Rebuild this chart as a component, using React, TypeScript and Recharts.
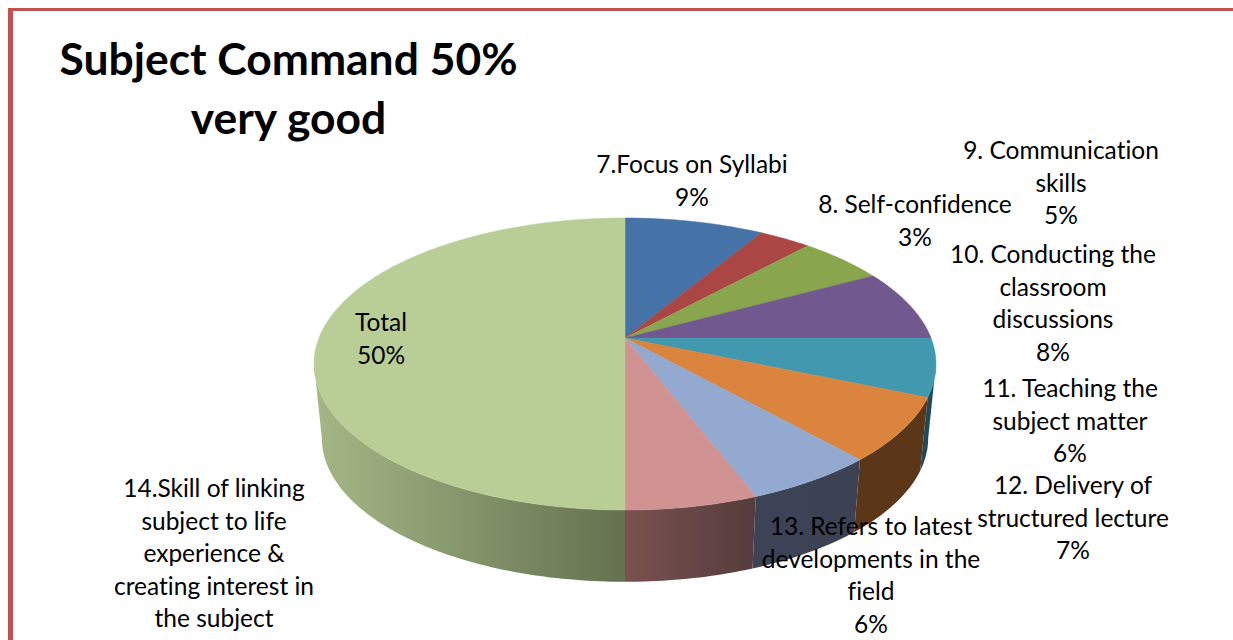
// @ts-nocheck
import { PieChart, Pie } from 'recharts'

const values = [8.6, 3.2, 5.3, 7.9, 6.4, 7.0, 5.8, 5.8, 50]
const labelLines = [
  ['7.Focus on Syllabi'],
  ['8. Self-confidence'],
  ['9. Communication', 'skills'],
  ['10. Conducting the', 'classroom', 'discussions'],
  ['11. Teaching the', 'subject matter'],
  ['12. Delivery of', 'structured lecture'],
  ['13. Refers to latest', 'developments in the', 'field'],
  ['14.Skill of linking', 'subject to life', 'experience &', 'creating interest in', 'the subject'],
  ['Total'],
]
const topColors = ['#4572a7', '#aa4643', '#89a54e', '#71588f', '#4198af', '#db843d', '#93a9cf', '#d19392', '#b9cd96']
const wallFrom = ['#2a4464', '#662a28', '#52632f', '#443555', '#1d4b58', '#5c3618', '#3c4356', '#7a5151', '#a5b786']
const wallTo = ['#2a4464', '#662a28', '#52632f', '#443555', '#1d4b58', '#5c3618', '#3c4254', '#553c3c', '#65714f']

// center x, first baseline y
const labelAnchors = [
  [692, 173], [915, 213], [1061, 159], [1053, 263], [1070, 397],
  [1073, 494], [871, 535], [214, 497], [381, 331],
]
const LINE = 32.5
const noLigatures = { fontVariantLigatures: 'none' }

const table = values.map((value, idx) => ({ name: labelLines[idx].join(' '), value, idx, fill: topColors[idx] }))

// the pie is tilted with some perspective: apex sits above the middle of the ellipse
const K = 0.178
const A = 141.4
const B = 306

function project(cx, cy, deg, base) {
  const t = (deg * Math.PI) / 180
  const u = Math.sin(t)
  const v = Math.cos(t)
  const d = 1 + K * v
  if (base) return [cx + (0.975 * B * u) / d, cy + 74.4 + (0.985 * A * -v) / d]
  return [cx + (B * u) / d, cy + (A * -v) / d]
}

function arcPoints(cx, cy, from, to, base) {
  const pts = []
  const n = Math.max(1, Math.ceil(Math.abs(to - from)))
  for (let i = 0; i <= n; i++) pts.push(project(cx, cy, from + ((to - from) * i) / n, base))
  return pts
}

const toPath = pts => 'M' + pts.map(p => p[0].toFixed(2) + ',' + p[1].toFixed(2)).join('L') + 'Z'

function TopSlice(props) {
  const { cx, cy, startAngle, endAngle, fill } = props
  const pts = [[cx, cy], ...arcPoints(cx, cy, 90 - startAngle, 90 - endAngle, false)]
  return <path d={toPath(pts)} fill={fill} stroke={fill} strokeWidth={0.5} />
}

function WallSlice(props) {
  const { cx, cy, startAngle, endAngle } = props
  const idx = props.idx ?? props.payload?.idx
  // only the front part of the rim shows
  const from = Math.max(90 - startAngle, 100.3)
  const to = Math.min(90 - endAngle, 259.7)
  if (to <= from) return <g />
  const pts = [...arcPoints(cx, cy, from, to, false), ...arcPoints(cx, cy, to, from, true)]
  return <path d={toPath(pts)} fill={`url(#wall-${idx})`} />
}

function renderLabel(props) {
  const i = props.index
  const [x, y] = labelAnchors[i]
  const lines = [...labelLines[i], Math.round(values[i]) + '%']
  // last line of 14 falls off the page in the reference
  const shown = i === 7 ? labelLines[i] : lines
  return (
    <text key={i} x={x} y={y} textAnchor="middle" fontFamily="Lato" fontSize={24.5} fill="#000" style={noLigatures}>
      {shown.map((line, j) => (
        <tspan key={j} x={x} y={y + j * LINE}>{line}</tspan>
      ))}
    </text>
  )
}

export default function App() {
  return (
    <div style={{ position: 'absolute', left: 0, top: 0, width: 1233, height: 640, overflow: 'hidden', background: '#fff' }}>
      <div style={{ position: 'absolute', left: 8, top: 8, width: 1240, height: 660, borderLeft: '5px solid #c4514f', borderTop: '3px solid #c4514f' }} />
      <div style={{ position: 'absolute', left: 0, top: 0 }}>
        <PieChart width={1233} height={640} margin={{ top: 0, right: 0, bottom: 0, left: 0 }}>
          <defs>
            {wallFrom.map((c, i) => (
              <linearGradient key={i} id={`wall-${i}`} x1="0" y1="0" x2="1" y2="0">
                <stop offset="0%" stopColor={c} />
                <stop offset="100%" stopColor={wallTo[i]} />
              </linearGradient>
            ))}
          </defs>
          <text textAnchor="middle" fontFamily="Lato" fontWeight={700} fontSize={44.4} fill="#000" style={noLigatures}>
            <tspan x={288.5} y={75}>Subject Command 50%</tspan>
            <tspan x={288.5} y={134}>very good</tspan>
          </text>
          <Pie data={table} dataKey="value" nameKey="name" cx={625} cy={338} outerRadius={306} startAngle={90} endAngle={-270}
            shape={WallSlice} label={false} labelLine={false} isAnimationActive={false} />
          <Pie data={table} dataKey="value" nameKey="name" cx={625} cy={338} outerRadius={306} startAngle={90} endAngle={-270}
            shape={TopSlice} label={renderLabel} labelLine={false} isAnimationActive={false} />
        </PieChart>
      </div>
    </div>
  )
}
